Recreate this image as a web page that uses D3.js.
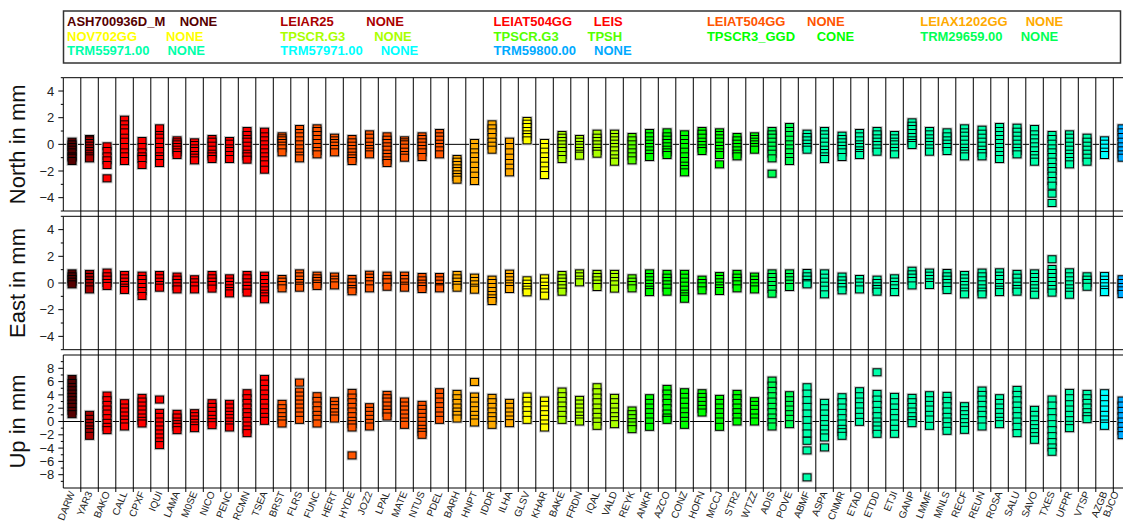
<!DOCTYPE html>
<html><head><meta charset="utf-8">
<script src="https://cdn.jsdelivr.net/npm/d3@7"></script>
<style>body{margin:0;background:#fff}svg{display:block;font-family:"Liberation Sans",Arial,Helvetica,sans-serif}</style>
</head><body><svg id="c" width="1123" height="527"></svg>
<script>
const stations = ["DARW","YAR3","BAKO","CALL","CPXF","IQUI","LAMA","M0SE","NICO","PENC","RCMN","TSEA",
 "BRST","FLRS","FUNC","HERT","HYDE","JOZ2","LPAL","MATE","NTUS","PDEL","BARH","HNPT","IDDR","ILHA",
 "GLSV","KHAR","BAKE","FRDN","IQAL","VALD","REYK","ANKR","AZCO","CONZ","HOFN","MCCJ","STR2","WTZZ",
 "ADIS","POVE","ABMF","ASPA","CNMR","ETAD","ETDD","ETJI","GANP","LMMF","MNLS","RECF","REUN","ROSA",
 "SALU","SAVO","TXES","UFPR","VTSP","AZGB","BJCO"];
const stationGroup = [0,1,2,2,2,2,2,2,2,2,2,2,
 3,3,3,3,3,3,3,3,3,3,4,4,4,4,
 5,5,6,6,6,6,7,8,8,8,8,8,8,8,
 9,9,10,10,10,10,10,10,10,10,10,10,10,10,
 10,10,10,10,10,11,12];
const antennas = ["ASH700936D_M","LEIAR25","LEIAT504GG","LEIAT504GG","LEIAX1202GG","NOV702GG","TPSCR.G3","TPSCR.G3","TPSCR3_GGD","TRM29659.00","TRM55971.00","TRM57971.00","TRM59800.00"];
const radomes = ["NONE","NONE","LEIS","NONE","NONE","NONE","NONE","TPSH","CONE","NONE","NONE","NONE","NONE"];
const groupColors = ["#550000","#aa0000","#ff0000","#ff5500","#ffaa00","#ffff00","#aaff00","#55ff00","#00ff00","#00ff55","#00ffaa","#00ffff","#00aaff"];

const northVals = [
 [0.2,0.0,-0.2,-0.4,-0.6,-0.9,-1.0,-1.25],
 [0.4,0.3,0.1,-0.1,-0.3,-0.5,-0.7,-0.9,-1.05],
 [-0.15,-0.5,-0.9,-1.2,-1.55,-2.55],
 [1.85,1.5,1.2,0.9,0.5,0.2,-0.2,-0.6,-0.9,-1.25],
 [0.25,-0.2,-0.6,-0.9,-1.1,-1.55],
 [1.2,0.7,0.5,0.2,-0.2,-0.5,-0.9,-1.1,-1.4],
 [0.3,0.15,0,-0.2,-0.4,-0.6,-0.8],
 [0.15,-0.05,-0.3,-0.5,-0.8,-1.0,-1.2],
 [0.4,0.2,-0.1,-0.4,-0.7,-0.9,-1.1],
 [0.25,0.05,-0.3,-0.5,-0.8,-1.1],
 [1.0,0.7,0.4,0.2,-0.1,-0.4,-0.7,-0.9,-1.15],
 [0.95,0.6,0.3,0.0,-0.3,-0.6,-0.9,-1.2,-1.5,-1.9],
 [0.6,0.45,0.3,0.1,-0.1,-0.3,-0.6],
 [1.15,0.85,0.6,0.3,0.0,-0.3,-0.6,-0.85,-1.05],
 [1.2,1.0,0.7,0.4,0.1,-0.2,-0.5,-0.75],
 [0.5,0.3,0.1,-0.1,-0.35,-0.6],
 [0.4,0.15,-0.1,-0.35,-0.6,-0.85,-1.05,-1.25],
 [0.75,0.5,0.2,-0.1,-0.35,-0.55,-0.75],
 [0.6,0.35,0.1,-0.15,-0.4,-0.7,-0.95,-1.2,-1.4],
 [0.3,0.15,0.0,-0.25,-0.55,-0.8,-1.0],
 [0.6,0.4,0.15,-0.1,-0.35,-0.6,-0.95],
 [0.85,0.6,0.35,0.05,-0.2,-0.45,-0.75],
 [-1.1,-1.3,-1.55,-1.8,-2.0,-2.25,-2.45,-2.65],
 [0.1,-0.2,-0.6,-0.9,-1.25,-1.6,-2.0,-2.35,-2.75],
 [1.5,1.2,0.9,0.55,0.2,-0.1,-0.4],
 [0.2,-0.2,-0.6,-1.0,-1.4,-1.75,-2.1],
 [1.75,1.55,1.3,1.0,0.75,0.55,0.3],
 [0.1,-0.2,-0.55,-0.9,-1.25,-1.6,-1.95,-2.3],
 [0.7,0.5,0.25,0.0,-0.25,-0.5,-0.8,-1.1],
 [0.4,0.2,-0.05,-0.25,-0.5,-0.7,-0.85],
 [0.8,0.5,0.25,0.0,-0.25,-0.5,-0.7],
 [0.8,0.55,0.3,0.05,-0.2,-0.45,-0.75,-1.05,-1.3],
 [0.55,0.3,0.0,-0.3,-0.6,-0.9,-1.2],
 [0.85,0.6,0.3,0.05,-0.2,-0.45,-0.7,-0.95],
 [0.9,0.6,0.35,0.1,-0.15,-0.4,-0.6,-0.8],
 [0.75,0.4,0.1,-0.2,-0.55,-0.9,-1.25,-1.6,-1.85,-2.1],
 [1.0,0.8,0.5,0.2,-0.05,-0.3,-0.5],
 [0.9,0.7,0.45,0.2,-0.1,-0.35,-0.6,-0.8,-1.5],
 [0.55,0.3,0.05,-0.2,-0.45,-0.7,-0.9],
 [0.6,0.4,0.2,0.0,-0.2,-0.4],
 [1.0,0.75,0.5,0.2,-0.1,-0.4,-0.7,-1.05,-2.2],
 [1.3,1.0,0.7,0.35,0.0,-0.3,-0.6,-0.95,-1.25],
 [0.8,0.55,0.3,0.05,-0.2,-0.4],
 [1.0,0.75,0.5,0.2,-0.1,-0.4,-0.65,-0.9,-1.1],
 [0.65,0.4,0.15,-0.1,-0.35,-0.6,-0.95],
 [0.85,0.6,0.3,0.0,-0.2,-0.45,-0.65,-0.8],
 [1.0,0.75,0.45,0.2,-0.05,-0.3,-0.55],
 [0.7,0.45,0.2,0.0,-0.25,-0.5,-0.75],
 [1.65,1.4,1.15,0.85,0.55,0.3,0.1,-0.05],
 [1.0,0.75,0.45,0.2,-0.05,-0.3,-0.55],
 [0.9,0.6,0.3,0.05,-0.2,-0.5],
 [1.2,0.9,0.65,0.35,0.05,-0.25,-0.5,-0.7,-0.9],
 [1.1,0.8,0.5,0.2,-0.1,-0.4,-0.65,-0.9],
 [1.3,1.0,0.7,0.4,0.1,-0.2,-0.5,-0.8,-1.1],
 [1.25,0.95,0.65,0.35,0.05,-0.25,-0.5,-0.75],
 [1.15,0.75,0.45,0.15,-0.15,-0.45,-0.8,-1.05,-1.3],
 [0.7,0.4,0.05,-0.3,-0.6,-0.95,-1.3,-1.7,-2.0,-2.35,-2.75,-3.1,-3.7,-4.4],
 [0.75,0.5,0.2,-0.1,-0.4,-0.7,-0.95,-1.25,-1.5],
 [0.5,0.2,-0.1,-0.4,-0.7,-1.0,-1.3],
 [0.3,0.05,-0.25,-0.55,-0.8],
 [1.2,0.9,0.55,0.2,-0.15,-0.45,-0.75,-1.0]
];

const eastVals = [
 [0.72,0.5,0.3,0.1,-0.1],
 [0.68,0.45,0.2,0.0,-0.25,-0.48],
 [0.78,0.5,0.25,0.0,-0.22],
 [0.6,0.35,0.1,-0.15,-0.35,-0.52],
 [0.55,0.3,0.0,-0.3,-0.6,-0.97],
 [0.6,0.35,0.1,-0.15,-0.35],
 [0.48,0.25,0.0,-0.25,-0.48],
 [0.28,0.05,-0.2,-0.48],
 [0.6,0.35,0.1,-0.15,-0.42],
 [0.35,0.1,-0.15,-0.4,-0.6,-0.78],
 [0.6,0.35,0.05,-0.2,-0.45,-0.72],
 [0.55,0.3,0.0,-0.3,-0.55,-0.8,-1.0,-1.22],
 [0.3,0.1,-0.15,-0.4],
 [0.72,0.5,0.25,0.0,-0.2,-0.35],
 [0.55,0.35,0.15,-0.05,-0.22],
 [0.48,0.25,0.05,-0.18],
 [0.3,0.05,-0.2,-0.45,-0.62],
 [0.62,0.4,0.15,-0.1,-0.4],
 [0.55,0.3,0.05,-0.28],
 [0.55,0.3,0.05,-0.2,-0.35],
 [0.45,0.2,-0.05,-0.25,-0.45],
 [0.45,0.2,-0.05,-0.3,-0.4],
 [0.6,0.35,0.1,-0.15,-0.35],
 [0.4,0.15,-0.1,-0.35,-0.5],
 [0.25,0.0,-0.3,-0.6,-0.9,-1.15,-1.35],
 [0.7,0.45,0.2,-0.05,-0.25,-0.45],
 [0.2,-0.05,-0.3,-0.5,-0.7],
 [0.35,0.1,-0.2,-0.45,-0.7,-0.95],
 [0.6,0.35,0.1,-0.15,-0.4,-0.65],
 [0.72,0.5,0.25,0.05],
 [0.68,0.45,0.2,-0.05,-0.3],
 [0.68,0.45,0.15,-0.1,-0.42],
 [0.35,0.1,-0.15,-0.4],
 [0.72,0.45,0.2,-0.05,-0.3,-0.5,-0.68],
 [0.68,0.4,0.15,-0.1,-0.35,-0.65],
 [0.68,0.4,0.1,-0.2,-0.5,-0.8,-1.0,-1.18],
 [0.25,0.0,-0.25,-0.55],
 [0.52,0.3,0.05,-0.2,-0.4,-0.6],
 [0.68,0.4,0.15,-0.1,-0.4],
 [0.48,0.25,0.0,-0.25,-0.48],
 [0.72,0.45,0.15,-0.15,-0.45,-0.8],
 [0.72,0.45,0.2,-0.05,-0.3],
 [0.75,0.5,0.25,0.0,-0.1],
 [0.72,0.4,0.1,-0.2,-0.5,-0.85],
 [0.48,0.2,-0.05,-0.3,-0.55],
 [0.3,0.05,-0.2,-0.48],
 [0.25,0.0,-0.25,-0.45,-0.65],
 [0.35,0.1,-0.15,-0.4,-0.68],
 [0.92,0.65,0.4,0.15,-0.18],
 [0.78,0.55,0.3,0.05,-0.15],
 [0.75,0.5,0.25,0.0,-0.25,-0.52],
 [0.6,0.35,0.1,-0.15,-0.4,-0.65,-0.85],
 [0.78,0.5,0.2,-0.1,-0.4,-0.65,-0.85],
 [0.8,0.55,0.3,0.0,-0.3,-0.5,-0.68],
 [0.68,0.4,0.1,-0.2,-0.45,-0.65],
 [0.72,0.45,0.15,-0.15,-0.4,-0.65,-0.88],
 [1.78,1.05,0.75,0.45,0.15,-0.15,-0.45,-0.72],
 [0.8,0.5,0.2,-0.1,-0.4,-0.65,-0.88],
 [0.5,0.25,0.0,-0.28],
 [0.52,0.25,0.0,-0.25,-0.5,-0.68],
 [0.28,0.0,-0.3,-0.55,-0.82]
];

const upVals = [
 [6.4,5.8,5.2,4.7,4.2,3.7,3.2,2.7,2.2,1.6,1.1],
 [1.0,0.4,-0.2,-0.7,-1.2,-1.6,-2.15],
 [3.9,3.2,2.5,1.8,1.2,0.5,-0.2,-0.8,-1.3],
 [2.75,2.1,1.5,0.9,0.3,-0.2,-0.75],
 [3.55,3.0,2.4,1.8,1.2,0.6,0.1,-0.3],
 [3.3,1.3,0.7,0.0,-0.6,-1.2,-1.8,-2.4,-3.0,-3.55],
 [1.15,0.6,0.0,-0.4,-0.8,-1.3],
 [1.25,0.8,0.3,-0.2,-0.6,-1.0],
 [2.75,2.2,1.6,1.0,0.4,-0.1,-0.55],
 [2.65,2.1,1.5,1.0,0.5,0.0,-0.5,-0.9],
 [4.25,3.5,2.8,2.1,1.4,0.8,0.1,-0.6,-1.2,-1.75],
 [6.4,5.7,4.9,4.2,3.5,2.8,2.1,1.4,0.7,0.1],
 [2.65,2.0,1.4,0.8,0.2,-0.3],
 [5.85,4.5,3.9,3.3,2.7,2.1,1.5,0.9,0.25],
 [3.8,3.1,2.4,1.7,1.0,0.4,-0.3],
 [3.05,2.5,2.0,1.4,0.9,0.45],
 [4.3,3.6,2.9,2.2,1.5,0.8,0.1,-0.4,-0.9,-5.1],
 [2.15,1.6,1.0,0.4,-0.2,-0.75],
 [4.0,3.5,3.0,2.4,1.8,1.3,0.75],
 [3.0,2.4,1.8,1.2,0.6,0.0,-0.5],
 [2.5,1.9,1.3,0.7,0.1,-0.5,-1.1,-1.6,-2.0],
 [4.4,3.7,3.0,2.3,1.6,0.9,0.25],
 [4.15,3.5,2.8,2.1,1.5,1.0,0.45],
 [5.95,3.75,3.1,2.4,1.7,1.0,0.4,-0.15],
 [3.55,2.9,2.2,1.5,0.8,0.2,-0.5],
 [2.8,2.2,1.5,0.9,0.3,-0.25],
 [3.75,3.1,2.4,1.7,1.0,0.25],
 [3.15,2.5,1.8,1.1,0.4,-0.3,-0.9],
 [4.5,3.8,3.1,2.4,1.7,1.0,0.25],
 [3.25,2.7,2.1,1.5,0.9,0.4,0.0],
 [5.15,4.4,3.6,2.9,2.1,1.4,0.7,0.0,-0.65],
 [3.55,2.9,2.2,1.5,0.8,0.2,-0.4],
 [1.65,1.1,0.5,-0.1,-0.6,-1.15],
 [3.5,2.8,2.1,1.4,0.7,0.0,-0.8],
 [4.9,4.2,3.5,2.8,2.0,1.2,0.6,0.25],
 [4.4,3.7,3.0,2.2,1.5,0.8,0.1,-0.5],
 [4.25,3.7,3.1,2.5,1.9,1.35],
 [3.4,2.8,2.1,1.4,0.7,0.0,-0.8],
 [4.15,3.5,2.8,2.1,1.4,0.7,0.0],
 [3.05,2.5,1.9,1.3,0.6,0.0],
 [6.15,5.4,4.6,3.8,3.0,2.2,1.4,0.6,-0.1,-0.75],
 [3.95,3.2,2.5,1.8,1.1,0.4,-0.4],
 [5.15,4.2,3.2,2.2,1.2,0.2,-0.8,-1.8,-2.9,-4.35,-8.4],
 [2.8,2.0,1.2,0.4,-0.4,-1.1,-1.8,-2.4,-3.9],
 [3.65,2.9,2.1,1.3,0.5,-0.3,-1.1,-1.6,-2.15],
 [4.55,3.8,3.0,2.3,1.5,0.7,-0.05],
 [7.4,4.15,3.3,2.5,1.6,0.8,0.0,-0.6,-1.2,-1.85],
 [3.7,2.9,2.1,1.3,0.5,-0.3,-1.1,-1.85],
 [3.55,2.9,2.2,1.5,0.8,0.2,-0.25],
 [3.95,3.2,2.5,1.8,1.0,0.3,-0.65],
 [3.85,3.1,2.3,1.5,0.7,0.0,-0.7,-1.4],
 [2.3,1.7,1.1,0.5,-0.1,-0.7,-1.25],
 [4.65,4.0,3.3,2.5,1.7,1.0,0.2,-0.75],
 [3.5,2.8,2.1,1.4,0.7,0.1,-0.4],
 [4.75,4.0,3.2,2.4,1.6,0.8,0.0,-0.8,-1.75],
 [1.75,1.0,0.3,-0.4,-1.0,-1.6,-2.2,-2.75],
 [3.3,2.4,1.4,0.5,-0.4,-1.3,-2.2,-3.1,-3.9,-4.55],
 [4.3,3.5,2.6,1.8,1.0,0.2,-0.5,-1.0],
 [4.15,3.5,2.8,2.1,1.4,0.8,0.35],
 [4.25,3.4,2.6,1.8,1.0,0.3,-0.3,-0.65],
 [3.15,2.4,1.6,0.8,0.0,-0.7,-1.4,-2.05]
];

const nTicks = [-4,-2,0,2,4];
const uTicks = [-8,-6,-4,-2,0,2,4,6,8];
const panelTitles = ["North in mm","East in mm","Up in mm"];

const svg = d3.select("#c");
const left = 63.3, step = 17.5;
const x = d3.scaleBand().domain(stations).range([left, left + stations.length*step]).padding(0);
const fmt = v => v < 0 ? "\u2212" + Math.abs(v) : String(v);

const panels = [
  {title: panelTitles[0], vals: northVals, y: d3.scaleLinear().domain([-5,5]).range([211,77.7]), ticks: nTicks, minor: [-5,-3,-1,1,3,5]},
  {title: panelTitles[1], vals: eastVals, y: d3.scaleLinear().domain([-5,5]).range([349.7,216.3]), ticks: nTicks, minor: [-5,-3,-1,1,3,5]},
  {title: panelTitles[2], vals: upVals, y: d3.scaleLinear().domain([-10,10]).range([488,355]), ticks: uTicks, minor: [-9,-7,-5,-3,-1,1,3,5,7,9]}
];

// vertical separators
const sepG = svg.append("g");
const seps = d3.range(1, stations.length + 1).map(i => left + i*step);
sepG.selectAll("line").data(seps).join("line")
  .attr("x1", d => d).attr("x2", d => d)
  .attr("y1", 77.7).attr("y2", 492)
  .attr("stroke", "#000").attr("stroke-width", 1);

panels.forEach(p => {
  const g = svg.append("g");
  const [y0, y1] = p.y.range();
  [y0, y1].forEach(yy => g.append("line").attr("x1", left).attr("x2", 1123).attr("y1", yy).attr("y2", yy)
     .attr("stroke", "#000").attr("stroke-width", 1));
  g.append("line").attr("x1", left).attr("x2", 1123).attr("y1", p.y(0)).attr("y2", p.y(0))
     .attr("stroke", "#000").attr("stroke-width", 1);
  g.append("line").attr("x1", left).attr("x2", left).attr("y1", y0).attr("y2", y1).attr("stroke", "#000").attr("stroke-width", 1);
  g.selectAll(".maj").data(p.ticks).join("line").attr("class","maj")
    .attr("x1", left - 5).attr("x2", left).attr("y1", d => p.y(d)).attr("y2", d => p.y(d)).attr("stroke", "#000");
  g.selectAll(".min").data(p.minor).join("line").attr("class","min")
    .attr("x1", left - 2.5).attr("x2", left).attr("y1", d => p.y(d)).attr("y2", d => p.y(d)).attr("stroke", "#000");
  g.selectAll(".tl").data(p.ticks).join("text").attr("class","tl")
    .attr("x", left - 9).attr("y", d => p.y(d)).attr("dy", "0.36em")
    .attr("text-anchor", "end").attr("font-size", 13).attr("fill", "#222").text(fmt);
  g.append("text").attr("transform", `translate(25,${(y0+y1)/2}) rotate(-90)`)
    .attr("text-anchor", "middle").attr("font-size", 22).attr("fill", "#111").text(p.title);

  const pts = [];
  p.vals.forEach((arr, i) => arr.forEach(v => pts.push({s: stations[i], v, c: groupColors[stationGroup[i]]})));
  const cx = d => x(d.s) + x.bandwidth()/2;
  const mw = 8, mh = 7;
  g.append("g").selectAll("rect").data(pts).join("rect")
    .attr("x", d => cx(d) - mw/2).attr("y", d => p.y(d.v) - mh/2)
    .attr("width", mw).attr("height", mh)
    .attr("fill", "none").attr("stroke", "#c8c8c8").attr("stroke-width", 3);
  g.append("g").selectAll("rect").data(pts).join("rect")
    .attr("x", d => cx(d) - mw/2).attr("y", d => p.y(d.v) - mh/2)
    .attr("width", mw).attr("height", mh)
    .attr("fill", d => d.c).attr("stroke", "#000").attr("stroke-width", 1);
});

// station labels
svg.append("g").selectAll("text").data(stations).join("text")
  .attr("transform", d => `translate(${Math.min(x(d) + x.bandwidth()/2 + 3, 1119)},493) rotate(-68)`)
  .attr("text-anchor", "end").attr("font-size", 10).attr("fill", "#222").text(d => d);

// legend
svg.append("rect").attr("x", 63.5).attr("y", 11).attr("width", 1057).attr("height", 52)
  .attr("fill", "none").attr("stroke", "#333").attr("stroke-width", 1.5);
const leg = svg.append("g");
leg.selectAll("text").data(antennas).join("text")
  .attr("x", (d, i) => 67 + (i % 5) * 213.3)
  .attr("y", (d, i) => 26 + Math.floor(i / 5) * 14.7)
  .attr("font-size", 13).attr("font-weight", "bold")
  .style("white-space", "pre")
  .attr("fill", (d, i) => groupColors[i])
  .text((d, i) => d.padEnd(16, " ") + radomes[i]);
</script></body></html>
